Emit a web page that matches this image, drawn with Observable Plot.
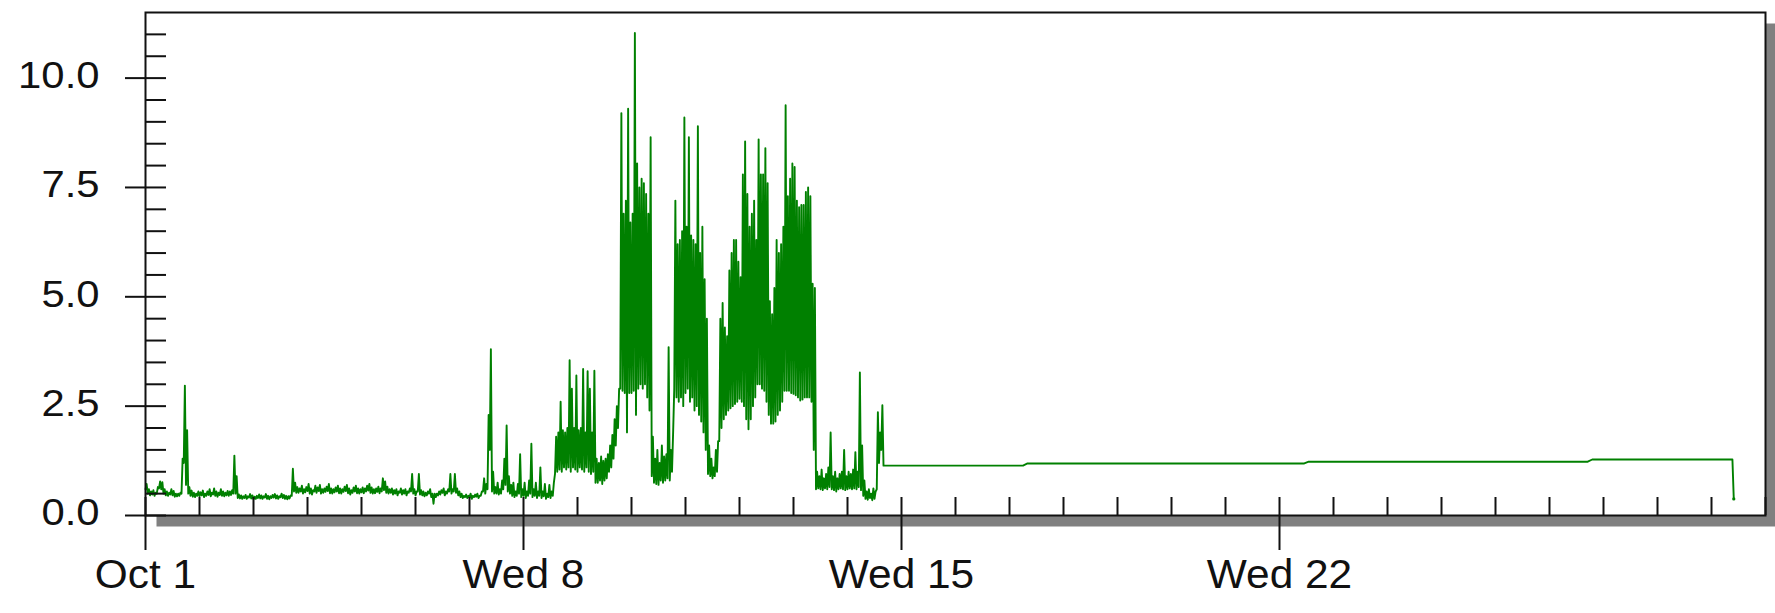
<!DOCTYPE html>
<html>
<head>
<meta charset="utf-8">
<script src="https://cdn.jsdelivr.net/npm/d3@7"></script>
<script src="https://cdn.jsdelivr.net/npm/@observablehq/plot@0.6"></script>
<style>
  html, body { margin: 0; padding: 0; background: #fff; }
  #chart { width: 1775px; height: 613px; }
</style>
</head>
<body>
<div id="chart"></div>
<script>
// ---------- data ----------
// Hourly readings from Oct 1 00:00: low and high value within each hour
const hourlyLow = [
  0.6,0.5,0.46,0.48,0.45,0.5,0.62,0.6,0.5,0.46,0.45,0.48,0.46,0.43,0.44,0.45,
  0.5,1.2,0.7,
  0.5,0.45,0.43,0.42,0.45,0.44,0.46,0.42,0.45,0.47,0.44,0.48,0.45,0.43,0.47,0.45,0.44,0.46,0.45,0.47,
  0.5,0.5,
  0.4,0.39,0.38,0.4,0.38,0.41,0.39,0.37,0.38,0.4,0.39,0.38,0.41,0.38,0.37,0.4,0.41,0.39,0.38,0.42,0.4,0.38,0.37,0.39,
  0.45,0.55,0.52,
  0.52,0.55,0.5,0.53,0.56,0.5,0.48,0.55,0.52,0.56, 0.5,0.52,0.54,0.56,0.51,0.5,0.53,0.55,0.51,0.5,
  0.54,0.56,0.51,0.48,0.52,0.55,0.51,0.5,0.53,0.51, 0.55,0.57,0.52,0.5,0.51,0.54,0.51,
  0.55,0.58,0.52,
  0.5,0.52,0.48,0.5,0.46,0.52,0.48,0.5,0.46,0.52, 0.55,0.5,0.46,0.55,0.48,0.46,0.44,0.46,0.5,0.42,
  0.27,0.42,0.46,0.48,0.52,0.46,0.5,0.55,0.5,0.55, 0.52,0.46,0.42,0.4,0.42,0.4,0.42,0.38,0.42,0.43,
  0.4,
  0.45,0.55,0.5,0.6,1.5,0.55,0.5,
  0.5,0.48,0.5,0.6,0.7,0.55,0.5,0.45,0.42,0.45, 0.5,0.42,0.45,0.4,0.45,0.5,0.42,0.45,0.4,0.45,
  0.4,0.44,0.38,0.42,0.4,0.45,
  0.95,1.0,1.05,1.0,1.1,1.05,1.1,1.0,1.1,1.05, 1.0,1.1,1.05,1.0,1.1,1.0,0.95,1.0,
  0.75,0.75,0.8,0.72,0.8,0.85,1.0,
  1.1,1.3,1.6,2.0,
  2.9,2.85,2.8,1.9,2.8,2.8,2.85,2.3,2.9,3.0,2.9,3.0,2.7,2.4,
  0.9,0.75,0.72,0.7,0.8,0.75,0.8,0.85,0.8,1.0,
  2.9,2.7,2.6,2.7,2.5,2.8,2.9,2.6,2.7,2.4,2.5,2.3,2.15,1.9,1.5,
  0.95,0.9,0.85,0.9,1.0,
  1.7,2.0,2.2,2.3,2.4,2.45,2.5,2.55,2.6,2.67, 2.6,2.5,2.2,1.97,2.2,2.5,2.7,3.0,3.0,2.9,
  2.85,2.6,2.3,2.1,2.1,2.15,2.3,2.4,2.6,2.85, 2.85,2.85,2.8,2.78,2.75,2.7,2.63,2.65,2.7,2.7,
  2.7,2.6,1.5,
  0.6,0.62,0.6,0.58,0.62,0.6,0.65,0.6,0.58,0.55, 0.6,0.62,0.6,0.58,0.6,0.62,0.6,0.62,0.6,0.65,
  0.58,0.45,0.38,0.36,0.4,0.35,0.38,0.6,1.2,1.5
];
const hourlyHigh = [
  0.72,0.6,0.55,0.58,0.52,0.65,0.78,0.76,0.6,0.55,0.52,0.6,0.56,0.5,0.5,0.52,
  1.3,2.97,1.95,
  0.65,0.57,0.52,0.5,0.55,0.53,0.57,0.5,0.55,0.6,0.52,0.62,0.55,0.52,0.6,0.55,0.52,0.56,0.55,0.58,
  1.37,0.9,
  0.48,0.46,0.44,0.47,0.44,0.49,0.46,0.43,0.45,0.48,0.46,0.44,0.49,0.45,0.44,0.47,0.49,0.46,0.44,0.5,0.47,0.45,0.44,0.46,
  1.07,0.75,0.65,
  0.62,0.68,0.6,0.65,0.72,0.62,0.58,0.68,0.64,0.7, 0.6,0.62,0.66,0.72,0.62,0.6,0.64,0.68,0.62,0.6,
  0.66,0.7,0.62,0.58,0.64,0.68,0.62,0.6,0.64,0.62, 0.68,0.72,0.64,0.6,0.62,0.66,0.62,
  0.85,0.78,0.66,
  0.6,0.62,0.58,0.6,0.55,0.62,0.58,0.6,0.55,0.62, 0.95,0.6,0.55,0.95,0.58,0.55,0.52,0.55,0.6,0.5,
  0.5,0.5,0.55,0.58,0.62,0.55,0.6,0.95,0.6,0.95, 0.62,0.55,0.5,0.45,0.48,0.45,0.5,0.45,0.48,0.5,
  0.45,
  0.55,0.85,0.72,2.3,3.8,1.0,0.65,
  0.75,0.6,0.8,1.3,2.06,0.9,0.7,0.75,0.55,0.72, 1.4,0.6,0.75,0.55,0.8,1.64,0.6,0.75,0.55,1.1,
  0.55,0.72,0.5,0.7,0.55,0.75,
  1.8,1.9,2.6,1.95,1.9,2.0,3.55,2.9,2.0,3.2, 1.95,2.0,3.35,1.9,3.3,2.9,1.9,3.31,
  1.3,1.2,1.35,1.25,1.3,1.4,1.6,
  1.84,2.2,2.5,2.9,
  9.2,6.9,7.2,9.3,6.7,6.9,11.03,8.05,7.5,7.7,7.6,7.35,6.9,8.65,
  1.8,1.3,1.5,1.2,1.6,1.35,1.4,3.85,1.5,1.9,
  7.2,6.2,6.3,6.5,9.1,6.6,8.65,6.4,6.3,6.2,8.9,6.0,6.6,5.4,4.5,
  1.6,1.3,1.1,1.5,1.7,
  4.5,4.86,4.3,4.1,5.6,6.0,6.3,6.3,5.8,5.45, 7.8,8.55,7.35,6.6,6.9,7.2,6.3,8.6,7.8,7.8,
  8.4,7.6,4.9,4.6,5.2,6.3,6.0,6.2,6.6,9.38, 7.3,7.7,8.05,7.97,7.2,7.05,7.1,7.1,7.4,7.5,
  7.3,5.3,5.2,
  1.0,0.9,1.05,0.85,0.95,1.1,1.9,0.9,1.0,0.85, 0.95,1.0,1.5,0.9,1.0,0.95,1.05,1.45,1.0,3.27,
  1.6,0.8,0.55,0.6,0.5,0.62,0.55,2.36,1.9,2.52
];
// Sparse readings after the gap (hours since Oct 1 00:00)
const laterHours  = [328, 390, 392, 515, 517, 641, 643, 705.3, 705.9];
const laterValues = [1.14, 1.14, 1.19, 1.19, 1.23, 1.23, 1.28, 1.28, 0.38];

// Axis ticks
const xMajorDays = [0, 7, 14, 21];
const xLabels = ["Oct 1", "Wed 8", "Wed 15", "Wed 22"];
const yMajor = [0, 2.5, 5, 7.5, 10];
const yLabels = ["0.0", "2.5", "5.0", "7.5", "10.0"];

// ---------- build ----------
const T0 = Date.UTC(2008, 9, 1);
const atHour = h => new Date(T0 + h * 3600e3);
const atDay = d => new Date(T0 + d * 86400e3);

const series = [];
hourlyLow.forEach((lo, i) => {
  series.push({t: atHour(i), v: lo});
  series.push({t: atHour(i + 0.5), v: hourlyHigh[i]});
});
laterHours.forEach((h, k) => series.push({t: atHour(h), v: laterValues[k]}));

const xMajor = xMajorDays.map(atDay);
const xMinor = d3.range(1, 31).filter(d => !xMajorDays.includes(d)).map(atDay);
const yInner = d3.range(0, 23).map(k => k * 0.5);

const W = 1775, H = 613;
const mL = 145, mR = 10, mT = 12, mB = 98;
const plotW = W - mL - mR, plotH = H - mT - mB;
const ink = "#111";

const svg = Plot.plot({
  width: W, height: H,
  marginLeft: mL, marginRight: mR, marginTop: mT, marginBottom: mB,
  style: {fontFamily: "'Liberation Sans', Arial, sans-serif", background: "#fff", overflow: "visible"},
  x: {type: "utc", domain: [atDay(0), atDay(30)], axis: null},
  y: {domain: [0, 11.5], axis: null},
  marks: [
    Plot.frame({fill: "#808080", stroke: null, dx: 11, dy: 11}),
    Plot.frame({fill: "#fff", stroke: null}),
    Plot.line(series, {x: "t", y: "v", stroke: "#008000", strokeWidth: 1.9}),
    Plot.dot(series.slice(-1), {x: "t", y: "v", r: 1.6, fill: "#008000", stroke: null}),
    Plot.frame({stroke: ink, strokeWidth: 2}),
    // y ticks: inner (every 0.5) and outer (labelled values)
    Plot.tickY(yInner, {y: d => d, stroke: ink, strokeWidth: 2, insetRight: plotW - 21}),
    Plot.tickY(yMajor, {y: d => d, stroke: ink, strokeWidth: 2, insetLeft: -20, insetRight: plotW}),
    // x ticks
    Plot.tickX(xMinor, {x: d => d, stroke: ink, strokeWidth: 2, insetTop: plotH - 18}),
    Plot.tickX(xMajor, {x: d => d, stroke: ink, strokeWidth: 2, insetTop: plotH - 18, insetBottom: -35}),
    // labels
    Plot.text(yMajor, {y: d => d, text: yLabels, frameAnchor: "left", textAnchor: "end",
      dx: -46, dy: -2, fontSize: 37, fill: ink}),
    Plot.text(xMajor, {x: d => d, text: xLabels, frameAnchor: "bottom", textAnchor: "middle",
      dy: 72, fontSize: 40, fill: ink})
  ]
});

document.getElementById("chart").appendChild(svg);

// widen the glyphs slightly, as in the original raster (position untouched)
d3.select(svg).selectAll("text").each(function () {
  const s = yLabels.includes(this.textContent) ? 1.13 : 1.06;
  const len = this.getComputedTextLength();
  if (len > 0) {
    this.setAttribute("textLength", (len * s).toFixed(1));
    this.setAttribute("lengthAdjust", "spacingAndGlyphs");
  }
});
</script>
</body>
</html>
